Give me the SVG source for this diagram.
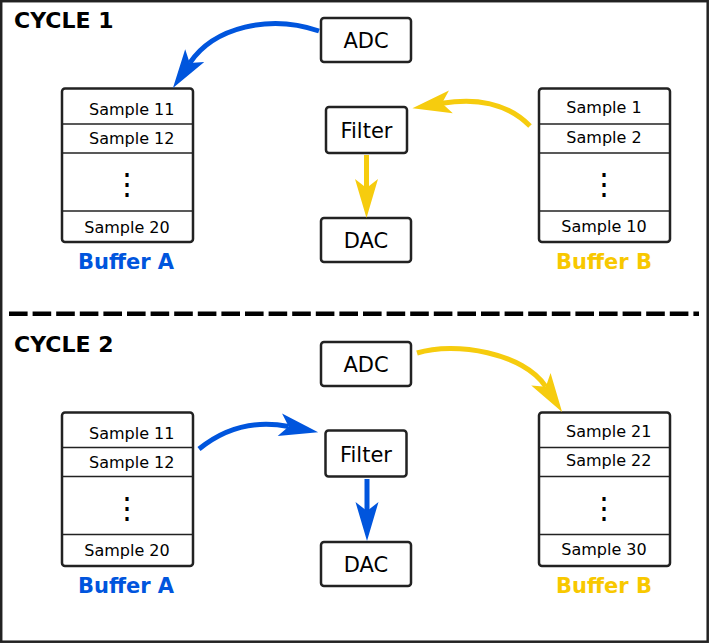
<svg xmlns="http://www.w3.org/2000/svg" width="709" height="643" viewBox="0 0 709 643">
<style>
.box{fill:#fff;stroke:#222;stroke-width:2.5}
.div{stroke:#222;stroke-width:1.5}
.t{font-family:"DejaVu Sans",sans-serif;fill:#000}
.s{font-size:16px}
.m{font-size:21px}
.title{font-family:"DejaVu Sans",sans-serif;font-weight:bold;font-size:22px;fill:#000}
.lblA{font-family:"DejaVu Sans",sans-serif;font-weight:bold;font-size:21px;fill:#0055dd}
.lblB{font-family:"DejaVu Sans",sans-serif;font-weight:bold;font-size:21px;fill:#f8c800}
.dots{font-family:"DejaVu Sans",sans-serif;font-weight:200;font-size:30px;fill:#000}
.blue{fill:none;stroke:#0055dd;stroke-width:5}
.yel{fill:none;stroke:#f6cc0e;stroke-width:5}
</style>
<defs>
<marker id="ab" viewBox="-10 -12 42 24" refX="0" refY="0" markerWidth="42" markerHeight="24" markerUnits="userSpaceOnUse" orient="auto">
<path d="M30,0 L-9,-11.5 L0,0 L-9,11.5 Z" fill="#0055dd"/>
</marker>
<marker id="ay" viewBox="-10 -12 42 24" refX="0" refY="0" markerWidth="42" markerHeight="24" markerUnits="userSpaceOnUse" orient="auto">
<path d="M30,0 L-9,-11.5 L0,0 L-9,11.5 Z" fill="#f6cc0e"/>
</marker>
</defs>
<rect x="1.2" y="1.2" width="706.5" height="640.5" fill="#fff" stroke="#222" stroke-width="2.5"/>
<line x1="9" y1="313.7" x2="699" y2="313.7" stroke="#000" stroke-width="4.5" stroke-dasharray="18.6 5"/>
<text class="title" x="14" y="28">CYCLE 1</text>
<text class="title" x="14" y="352">CYCLE 2</text>

<g id="c1-adc"><rect class="box" x="321" y="18" width="90" height="44" rx="3"/><text class="t m" x="366" y="48" text-anchor="middle">ADC</text></g>
<g id="c1-filter"><rect class="box" x="326" y="107" width="81" height="46" rx="3"/><text class="t m" x="366.5" y="138" text-anchor="middle">Filter</text></g>
<g id="c1-dac"><rect class="box" x="321" y="218" width="90" height="44" rx="3"/><text class="t m" x="366" y="248" text-anchor="middle">DAC</text></g>

<g id="c1-bufA">
<rect class="box" x="62" y="88.5" width="131" height="153.5" rx="3"/>
<line class="div" x1="61" y1="124" x2="193" y2="124"/>
<line class="div" x1="61" y1="153" x2="193" y2="153"/>
<line class="div" x1="61" y1="211" x2="193" y2="211"/>
<text class="t s" x="89" y="115">Sample 11</text>
<text class="t s" x="89" y="143.5">Sample 12</text>
<text class="dots" x="127" y="194" text-anchor="middle">⋮</text>
<text class="t s" x="127" y="233" text-anchor="middle">Sample 20</text>
<text class="lblA" x="126" y="269" text-anchor="middle">Buffer A</text>
</g>

<g id="c1-bufB">
<rect class="box" x="539" y="88.5" width="131" height="153.5" rx="3"/>
<line class="div" x1="538" y1="124" x2="670" y2="124"/>
<line class="div" x1="538" y1="153" x2="670" y2="153"/>
<line class="div" x1="538" y1="211" x2="670" y2="211"/>
<text class="t s" x="604" y="113" text-anchor="middle">Sample 1</text>
<text class="t s" x="604" y="142.7" text-anchor="middle">Sample 2</text>
<text class="dots" x="604" y="194" text-anchor="middle">⋮</text>
<text class="t s" x="604" y="232" text-anchor="middle">Sample 10</text>
<text class="lblB" x="604" y="269" text-anchor="middle">Buffer B</text>
</g>

<g id="c2-adc"><rect class="box" x="321" y="342" width="90" height="44" rx="3"/><text class="t m" x="366" y="371.5" text-anchor="middle">ADC</text></g>
<g id="c2-filter"><rect class="box" x="325.5" y="430.5" width="81" height="46" rx="3"/><text class="t m" x="366" y="461.5" text-anchor="middle">Filter</text></g>
<g id="c2-dac"><rect class="box" x="321" y="542" width="90" height="44" rx="3"/><text class="t m" x="366" y="571.5" text-anchor="middle">DAC</text></g>

<g id="c2-bufA">
<rect class="box" x="62" y="412.5" width="131" height="153.5" rx="3"/>
<line class="div" x1="61" y1="447.5" x2="193" y2="447.5"/>
<line class="div" x1="61" y1="476.5" x2="193" y2="476.5"/>
<line class="div" x1="61" y1="534.5" x2="193" y2="534.5"/>
<text class="t s" x="89" y="438.5">Sample 11</text>
<text class="t s" x="89" y="467.5">Sample 12</text>
<text class="dots" x="127" y="518" text-anchor="middle">⋮</text>
<text class="t s" x="127" y="556" text-anchor="middle">Sample 20</text>
<text class="lblA" x="126" y="593" text-anchor="middle">Buffer A</text>
</g>

<g id="c2-bufB">
<rect class="box" x="539" y="412.5" width="131" height="153.5" rx="3"/>
<line class="div" x1="538" y1="447.5" x2="670" y2="447.5"/>
<line class="div" x1="538" y1="476.5" x2="670" y2="476.5"/>
<line class="div" x1="538" y1="534.5" x2="670" y2="534.5"/>
<text class="t s" x="566" y="437">Sample 21</text>
<text class="t s" x="566" y="466">Sample 22</text>
<text class="dots" x="604" y="518" text-anchor="middle">⋮</text>
<text class="t s" x="604" y="554.5" text-anchor="middle">Sample 30</text>
<text class="lblB" x="604" y="593" text-anchor="middle">Buffer B</text>
</g>

<g id="connectors">
<path class="blue" d="M319,31 C270,14 214,27 189.7,63.1" marker-end="url(#ab)"/>
<path class="yel" d="M530,126 C512,108 485,96 442,103.3" marker-end="url(#ay)"/>
<path class="yel" d="M366.5,155 L366.5,188" marker-end="url(#ay)"/>
<path class="blue" d="M199,449 C215,436 245,418 288.7,426.5" marker-end="url(#ab)"/>
<path class="blue" d="M367,479 L367,511" marker-end="url(#ab)"/>
<path class="yel" d="M417,353 C455,341 524,353 545.8,386.7" marker-end="url(#ay)"/>
</g>
</svg>
